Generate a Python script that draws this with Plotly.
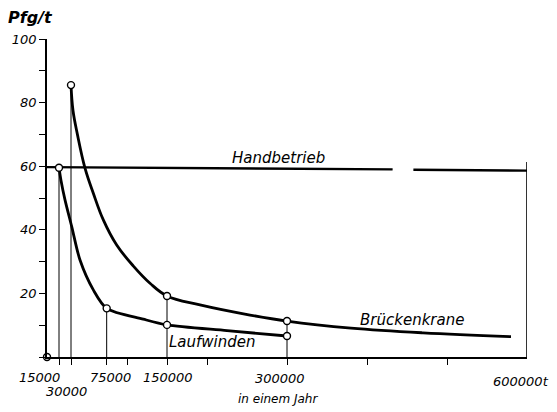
import plotly.graph_objects as go

# --- data ---
hand_x = [0, 432000, None, 458000, 600000]
hand_y = [59.7, 59.0, None, 58.9, 58.6]

bruecken_x = [30000, 32500, 38000, 47500, 57900, 70400, 87100, 108000, 128750, 150000,
              191250, 253750, 300000, 380000, 470000, 580000]
bruecken_y = [85.5, 77.5, 70, 59.4, 51.5, 43.1, 35.2, 28.6, 23.2, 19.2,
              16.4, 13.2, 11.3, 9.1, 7.6, 6.4]

lauf_x = [15000, 17500, 22500, 30900, 41250, 57900, 74600, 120400, 150000, 225000, 300000]
lauf_y = [59.5, 55.5, 49.4, 41, 30.5, 21.1, 15.3, 11.9, 10.1, 8.3, 6.6]

marker_x = [0, 15000, 74600, 150000, 300000, 30000, 150000, 300000]
marker_y = [0, 59.5, 15.3, 10.1, 6.6, 85.5, 19.2, 11.3]

drop_x = [15000, 30000, 74600, 150000, 300000]
drop_y = [59.5, 85.5, 15.3, 19.2, 11.3]

border_top = 61.3

x_ticks = [15000, 30000, 74600, 100000, 150000, 200000, 300000, 400000, 500000]
y_ticks = [0, 10, 20, 30, 40, 50, 60, 70, 80, 90, 100]
y_ticktext = ["", "", "20", "", "40", "", "60", "", "80", "", "100"]

x_labels = ["15000", "30000", "75000", "150000", "300000", "600000t"]
x_label_vals = [15000, 30000, 75000, 150000, 300000, 600000]
x_label_shift = [-20, -5, 3, 1, -7, -6]
x_label_yshift = [-20, -34, -20, -20, -21, -24]

FONT = "DejaVu Sans"

fig = go.Figure()

# vertical drop lines
vx, vy = [], []
for xv, yv in zip(drop_x, drop_y):
    vx += [xv, xv, None]
    vy += [0, yv, None]
fig.add_trace(go.Scatter(x=vx, y=vy, mode="lines",
                         line=dict(color="black", width=1), hoverinfo="skip"))

# right border
fig.add_trace(go.Scatter(x=[600000, 600000], y=[0, border_top], mode="lines",
                         line=dict(color="black", width=1.6), hoverinfo="skip"))

fig.add_trace(go.Scatter(x=hand_x, y=hand_y, mode="lines",
                         line=dict(color="black", width=2.4), name="Handbetrieb"))
fig.add_trace(go.Scatter(x=bruecken_x, y=bruecken_y, mode="lines",
                         line=dict(color="black", width=2.8, shape="spline", smoothing=1.1),
                         name="Brückenkrane"))
fig.add_trace(go.Scatter(x=lauf_x, y=lauf_y, mode="lines",
                         line=dict(color="black", width=2.8, shape="spline", smoothing=0.8),
                         name="Laufwinden"))
fig.add_trace(go.Scatter(x=marker_x, y=marker_y, mode="markers", cliponaxis=False,
                         marker=dict(symbol="circle", size=7, color="white",
                                     line=dict(color="black", width=1.4))))

ann = []
for t, xv, xs, ys in zip(x_labels, x_label_vals, x_label_shift, x_label_yshift):
    ann.append(dict(x=xv, y=0, xref="x", yref="y", text=t, showarrow=False,
                    xshift=xs, yshift=ys,
                    font=dict(family=FONT, size=13, color="black", style="italic")))

ann.append(dict(x=288750, y=0, xref="x", yref="y", text="in einem Jahr", showarrow=False,
                yshift=-42, font=dict(family=FONT, size=12, color="black", style="italic")))
ann.append(dict(x=288750, y=59.4, xref="x", yref="y", text="Handbetrieb", showarrow=False,
                yshift=10, font=dict(family=FONT, size=15, color="black", style="italic")))
ann.append(dict(x=456000, y=11.6, xref="x", yref="y", text="Brückenkrane", showarrow=False,
                font=dict(family=FONT, size=15, color="black", style="italic")))
ann.append(dict(x=207000, y=4.8, xref="x", yref="y", text="Laufwinden", showarrow=False,
                font=dict(family=FONT, size=15, color="black", style="italic")))
ann.append(dict(x=0, y=100, xref="x", yref="y", text="<b>Pfg/t</b>", showarrow=False,
                xshift=-17, yshift=22,
                font=dict(family=FONT, size=16, color="black", style="italic")))

# page body has an 8px margin: compensate so the plot area lands where the reference's does
fig.update_layout(
    width=549, height=404, autosize=False,
    margin=dict(l=39, r=30, t=31, b=55),
    paper_bgcolor="white", plot_bgcolor="white",
    showlegend=False,
    annotations=ann,
    xaxis=dict(range=[0, 600000], showgrid=False, zeroline=False, automargin=False,
               showline=True, linecolor="black", linewidth=1.6,
               ticks="outside", ticklen=6, tickcolor="black", tickwidth=1,
               tickvals=x_ticks, ticktext=[""] * len(x_ticks)),
    yaxis=dict(range=[0, 100], showgrid=False, zeroline=False, automargin=False,
               showline=True, linecolor="black", linewidth=1.6,
               ticks="outside", ticklen=6, tickcolor="black", tickwidth=1,
               tickvals=y_ticks, ticktext=y_ticktext,
               tickfont=dict(family=FONT, size=13, color="black", style="italic")),
)

fig.write_html("out.html")
